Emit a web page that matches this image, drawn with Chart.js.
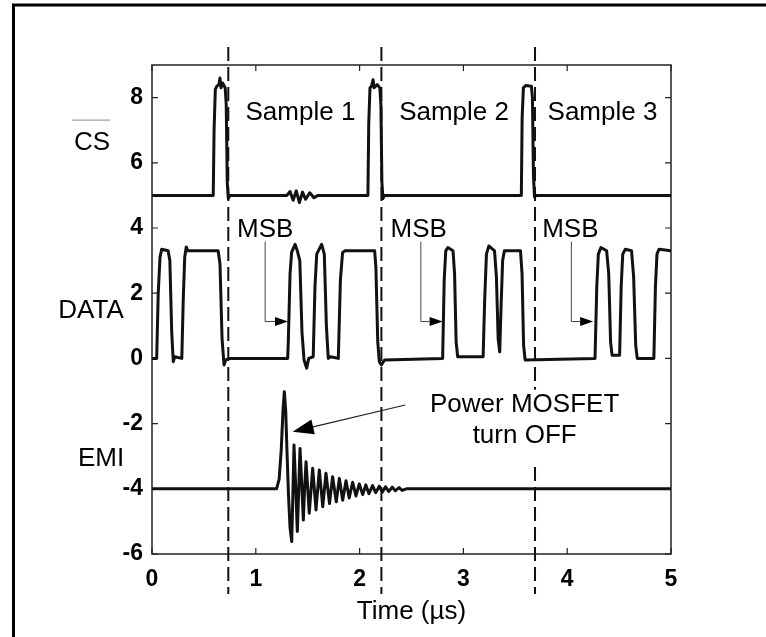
<!DOCTYPE html>
<html>
<head>
<meta charset="utf-8">
<script src="https://cdn.jsdelivr.net/npm/chart.js@4/dist/chart.umd.min.js"></script>
<style>
  html, body { margin: 0; padding: 0; background: #fff; }
  canvas { display: block; }
</style>
</head>
<body>
<canvas id="scope" width="766" height="637"></canvas>
<script>
// ---- axis ticks ----
const xTicks = [0, 1, 2, 3, 4, 5];
const yTicks = [-6, -4, -2, 0, 2, 4, 6, 8];

// ---- sampling windows ----
const sampleEdges = [0.735, 2.21, 3.69];
const sampleNames = ['Sample 1', 'Sample 2', 'Sample 3'];
const sampleLabelTime = [1.43, 2.91, 4.34];
const msbLabelTime = [1.09, 2.57, 4.03];
const msbLeaderTime = [1.09, 2.59, 4.04];
const msbTargetTime = [1.31, 2.80, 4.25];

// ---- chip select (offset +5 V) ----
const csTime = [0, 0.59, 0.598, 0.61, 0.625, 0.645, 0.655, 0.665, 0.68, 0.705, 0.715, 0.725, 0.735, 0.75,
  1.30, 1.33, 1.36, 1.39, 1.42, 1.45, 1.48, 1.52, 1.56, 1.60,
  2.08, 2.088, 2.1, 2.115, 2.13, 2.14, 2.17, 2.195, 2.205, 2.215, 2.225, 2.24,
  3.558, 3.566, 3.578, 3.6, 3.655, 3.665, 3.675, 3.685, 3.70, 5];
const csLevel = [5.0, 5.0, 7.0, 8.25, 8.35, 8.4, 8.6, 8.3, 8.45, 8.3, 7.8, 5.4, 4.9, 5.0,
  5.0, 5.12, 4.85, 5.14, 4.78, 5.1, 4.88, 5.08, 4.93, 5.0,
  5.0, 7.2, 8.3, 8.35, 8.55, 8.3, 8.4, 8.3, 7.8, 5.4, 4.9, 5.0,
  5.0, 7.4, 8.3, 8.37, 8.35, 8.0, 5.6, 4.95, 5.0, 5.0];

// ---- serial data line ----
const dataTime = [0, 0.045, 0.06, 0.077, 0.093, 0.155, 0.172, 0.19, 0.205, 0.22, 0.287, 0.301, 0.315, 0.33, 0.345,
  0.637, 0.655, 0.675, 0.694, 0.71, 0.74,
  1.307, 1.313, 1.33, 1.345, 1.378, 1.40, 1.424, 1.445, 1.465, 1.49, 1.51,
  1.553, 1.57, 1.587, 1.634, 1.66, 1.68, 1.698, 1.72, 1.795, 1.815, 1.836, 1.86,
  2.145, 2.157, 2.175, 2.19, 2.21, 2.24,
  2.80, 2.815, 2.83, 2.85, 2.90, 2.915, 2.93, 2.945,
  3.19, 3.205, 3.222, 3.245, 3.30, 3.318, 3.335, 3.35, 3.362, 3.378, 3.395,
  3.55, 3.565, 3.58, 3.595,
  4.268, 4.285, 4.30, 4.325, 4.38, 4.40, 4.418, 4.432,
  4.505, 4.52, 4.535, 4.56, 4.62, 4.64, 4.66, 4.675,
  4.835, 4.85, 4.865, 4.885, 5];
const dataLevel = [0, 0, 2.0, 3.1, 3.35, 3.3, 3.0, 0.8, -0.1, 0.05, 0, 1.8, 3.1, 3.42, 3.3,
  3.3, 2.9, 0.6, -0.2, -0.05, 0,
  0, 0.5, 2.6, 3.25, 3.5, 3.3, 3.0, 0.8, -0.05, -0.3, 0,
  0.05, 2.2, 3.2, 3.5, 3.2, 1.0, 0.0, 0.05, 0.0, 2.4, 3.25, 3.3,
  3.3, 2.8, 0.5, -0.1, -0.2, -0.05,
  0.0, 2.4, 3.3, 3.4, 3.3, 2.6, 0.5, 0.05,
  0.05, 1.8, 3.2, 3.45, 3.3, 2.5, 0.6, 0.2, 1.5, 3.0, 3.3,
  3.3, 2.6, 0.4, -0.05,
  0, 2.2, 3.2, 3.4, 3.3, 2.6, 0.5, 0.1,
  0.1, 2.2, 3.2, 3.35, 3.3, 2.5, 0.4, 0.0,
  0.0, 2.2, 3.2, 3.35, 3.3];

// ---- radiated EMI (offset -4 V) ----
const emiTime = [0, 1.20, 1.225, 1.245, 1.262, 1.275, 1.288, 1.30, 1.315, 1.33, 1.346, 1.357, 1.368, 1.384,
  1.40, 1.413, 1.426, 1.443, 1.458, 1.47, 1.484, 1.515, 1.548, 1.58, 1.612, 1.645, 1.676, 1.71,
  1.74, 1.775, 1.805, 1.837, 1.869, 1.90, 1.933, 1.965, 1.997, 2.03, 2.06, 2.09, 2.125, 2.155,
  2.19, 2.22, 2.25, 2.28, 2.315, 2.345, 2.38, 2.41, 2.45, 5];
const emiLevel = [-4.0, -4.0, -3.7, -2.8, -1.6, -1.02, -1.6, -2.8, -4.2, -5.2, -5.62, -4.2, -2.66, -3.9,
  -5.31, -4.1, -2.76, -3.9, -4.96, -4.0, -3.17, -4.75, -3.37, -4.65, -3.42, -4.55, -3.52, -4.45,
  -3.63, -4.4, -3.68, -4.35, -3.75, -4.28, -3.8, -4.22, -3.85, -4.18, -3.88, -4.15, -3.9, -4.12,
  -3.92, -4.1, -3.94, -4.08, -3.95, -4.06, -3.96, -4.05, -4.0, -4.0];

const FONT = '"Liberation Sans", Arial, Helvetica, sans-serif';
const toPoints = (ts, vs) => ts.map((t, i) => ({ x: t, y: vs[i] }));

function drawArrow(ctx, x0, y0, x1, y1, len, half) {
  const ang = Math.atan2(y1 - y0, x1 - x0);
  const bx = x1 - len * Math.cos(ang), by = y1 - len * Math.sin(ang);
  ctx.beginPath(); ctx.moveTo(x0, y0); ctx.lineTo(bx, by); ctx.stroke();
  ctx.beginPath();
  ctx.moveTo(x1, y1);
  ctx.lineTo(bx + half * Math.sin(ang), by - half * Math.cos(ang));
  ctx.lineTo(bx - half * Math.sin(ang), by + half * Math.cos(ang));
  ctx.closePath(); ctx.fill();
}

const scopeDecor = {
  id: 'scopeDecor',
  beforeDatasetsDraw(chart) {
    const { ctx, chartArea: a, scales: { x, y } } = chart;
    ctx.save();
    // page frame, top and left edges
    ctx.strokeStyle = '#000'; ctx.lineWidth = 3;
    ctx.beginPath(); ctx.moveTo(13.5, 637); ctx.lineTo(13.5, 5); ctx.lineTo(766, 5); ctx.stroke();
    // axes box
    ctx.strokeStyle = '#222'; ctx.lineWidth = 1.5;
    ctx.strokeRect(a.left, a.top, a.right - a.left, a.bottom - a.top);
    // inward tick marks on all four sides
    ctx.lineWidth = 1.2;
    ctx.beginPath();
    y.ticks.forEach(t => {
      const py = y.getPixelForValue(t.value);
      ctx.moveTo(a.left, py); ctx.lineTo(a.left + 6, py);
      ctx.moveTo(a.right, py); ctx.lineTo(a.right - 6, py);
    });
    x.ticks.forEach(t => {
      const px = x.getPixelForValue(t.value);
      ctx.moveTo(px, a.bottom); ctx.lineTo(px, a.bottom - 6);
      ctx.moveTo(px, a.top); ctx.lineTo(px, a.top + 6);
    });
    ctx.stroke();
    ctx.restore();
  },
  afterDatasetsDraw(chart) {
    const { ctx, chartArea: a, scales: { x, y } } = chart;
    ctx.save();
    // sample window boundaries, running past the axes
    ctx.strokeStyle = '#111'; ctx.lineWidth = 2;
    ctx.setLineDash([14, 6]);
    sampleEdges.forEach(t => {
      const px = x.getPixelForValue(t);
      ctx.beginPath();
      ctx.moveTo(px, y.getPixelForValue(9.55));
      ctx.lineTo(px, y.getPixelForValue(-7.23));
      ctx.stroke();
    });
    ctx.setLineDash([]);

    // annotation text
    ctx.fillStyle = '#000';
    ctx.textBaseline = 'alphabetic';
    ctx.textAlign = 'center';
    ctx.font = '26px ' + FONT;
    sampleNames.forEach((s, i) => ctx.fillText(s, x.getPixelForValue(sampleLabelTime[i]), y.getPixelForValue(7.31)));
    msbLabelTime.forEach(t => ctx.fillText('MSB', x.getPixelForValue(t), y.getPixelForValue(3.73)));

    // two-line callout on an opaque white box
    const cx = x.getPixelForValue(3.59);
    const boxTop = y.getPixelForValue(-0.96), boxBot = y.getPixelForValue(-3.32);
    ctx.fillStyle = '#fff';
    ctx.fillRect(cx - 100, boxTop, 200, boxBot - boxTop);
    ctx.fillStyle = '#000';
    ctx.fillText('Power MOSFET', cx, y.getPixelForValue(-1.63));
    ctx.fillText('turn OFF', cx, y.getPixelForValue(-2.60));

    // trace names left of the axis
    ctx.fillText('CS', a.left - 60, y.getPixelForValue(6.39));
    ctx.fillText('DATA', a.left - 61, y.getPixelForValue(1.24));
    ctx.fillText('EMI', a.left - 51, y.getPixelForValue(-3.30));
    // active-low bar over CS
    ctx.strokeStyle = '#888'; ctx.lineWidth = 1;
    ctx.beginPath();
    ctx.moveTo(a.left - 80, y.getPixelForValue(7.31));
    ctx.lineTo(a.left - 42, y.getPixelForValue(7.31));
    ctx.stroke();

    // MSB leaders
    ctx.strokeStyle = '#444'; ctx.fillStyle = '#000'; ctx.lineWidth = 1;
    msbLeaderTime.forEach((t, i) => {
      const px = x.getPixelForValue(t);
      const yTop = y.getPixelForValue(3.58), yBot = y.getPixelForValue(1.13);
      ctx.beginPath(); ctx.moveTo(px, yTop); ctx.lineTo(px, yBot); ctx.stroke();
      drawArrow(ctx, px, yBot, x.getPixelForValue(msbTargetTime[i]), yBot, 13, 4.5);
    });

    // turn-off pointer
    ctx.strokeStyle = '#222'; ctx.lineWidth = 1.2;
    drawArrow(ctx, x.getPixelForValue(2.44), y.getPixelForValue(-1.43),
      x.getPixelForValue(1.355), y.getPixelForValue(-2.25), 21, 7.5);
    ctx.restore();
  }
};

const tickFont = { family: FONT, size: 23, weight: 'bold' };

new Chart(document.getElementById('scope'), {
  type: 'line',
  data: {
    datasets: [
      { label: 'CS', data: toPoints(csTime, csLevel) },
      { label: 'DATA', data: toPoints(dataTime, dataLevel) },
      { label: 'EMI', data: toPoints(emiTime, emiLevel) }
    ]
  },
  options: {
    responsive: false,
    animation: false,
    devicePixelRatio: 1,
    layout: { padding: { left: 0, right: 95, top: 65, bottom: 0 } },
    plugins: { legend: { display: false }, tooltip: { enabled: false } },
    elements: {
      point: { radius: 0 },
      line: { tension: 0, borderWidth: 3, borderColor: '#111', borderJoinStyle: 'round', borderCapStyle: 'round', fill: false }
    },
    scales: {
      x: {
        type: 'linear', min: 0, max: 5,
        afterBuildTicks: s => { s.ticks = xTicks.map(v => ({ value: v })); },
        afterFit: s => { s.height = 83; },
        grid: { display: false, drawTicks: false },
        border: { display: false },
        ticks: { font: tickFont, color: '#000', padding: 12, maxRotation: 0, autoSkip: false },
        title: { display: true, text: 'Time (µs)', color: '#000', font: { family: FONT, size: 26 }, padding: { top: 0, bottom: 10 } }
      },
      y: {
        type: 'linear', min: -6, max: 9,
        afterBuildTicks: s => { s.ticks = yTicks.map(v => ({ value: v })); },
        afterFit: s => { s.width = 152; },
        grid: { display: false, drawTicks: false },
        border: { display: false },
        ticks: { font: tickFont, color: '#000', padding: 9, autoSkip: false }
      }
    }
  },
  plugins: [scopeDecor]
});
</script>
</body>
</html>
